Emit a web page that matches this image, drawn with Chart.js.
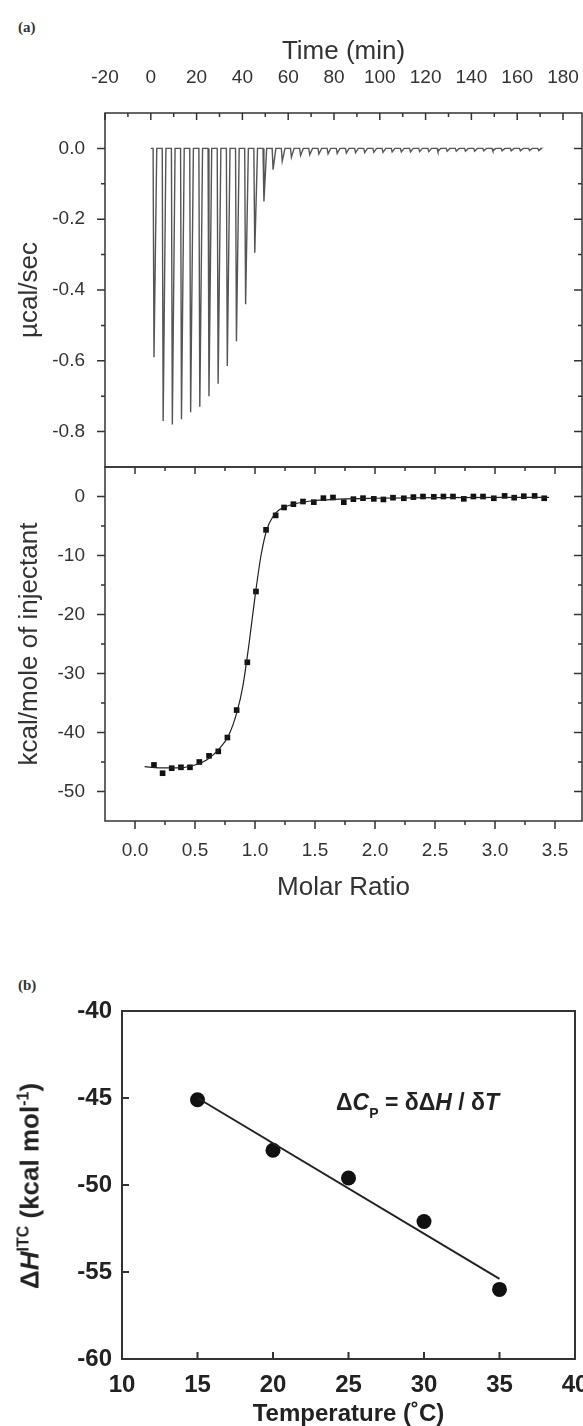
<!DOCTYPE html>
<html>
<head>
<meta charset="utf-8">
<title>ITC</title>
<script src="https://cdn.jsdelivr.net/npm/chart.js@4.4.0/dist/chart.umd.min.js"></script>
<style>
  body { margin: 0; background: #fff; }
  #page { position: relative; width: 583px; height: 1426px; overflow: hidden; background: #fff; }
  canvas { position: absolute; left: 0; }
  .tag { position: absolute; font: bold 15px "Liberation Serif", serif; color: #333; }
  #ytitleB { position: absolute; left: 30px; top: 1186px; transform: translate(-50%, -50%) rotate(-90deg);
    font: bold 26px "Liberation Sans", Arial, sans-serif; white-space: nowrap; color: #222; }
  #ytitleB sup { font-size: 16px; vertical-align: 10px; }
  #note { position: absolute; left: 336px; top: 1089px; font: bold 23px "Liberation Sans", Arial, sans-serif; color: #222; white-space: nowrap; }
  #note sub { font-size: 14px; vertical-align: -8px; }
</style>
</head>
<body>
<div id="page">
  <div class="tag" style="left:18px;top:19px">(a)</div>
  <div class="tag" style="left:18px;top:977px">(b)</div>

  <canvas id="raw" width="583" height="470" style="top:0;width:583px;height:470px"></canvas>
  <canvas id="iso" width="583" height="450" style="top:460px;width:583px;height:450px"></canvas>
  <canvas id="dh" width="583" height="451" style="top:975px;width:583px;height:451px"></canvas>

  <div id="ytitleB">Δ<i>H</i><sup>ITC</sup> (kcal mol<sup>-1</sup>)</div>
  <div id="note">Δ<i>C</i><sub>P</sub> = δΔ<i>H</i> / δ<i>T</i></div>
</div>

<script>
// upper panel: injections (time in min, peak in µcal/sec)
const injTime = [1, 5, 9, 13, 17, 21, 25, 29, 33, 37, 41, 45, 49, 53, 57, 61, 65, 69, 73, 77, 81, 85,
  89, 93, 97, 101, 105, 109, 113, 117, 121, 125, 129, 133, 137, 141, 145, 149, 153, 157, 161, 165, 169];
const injPeak = [-0.59, -0.77, -0.78, -0.765, -0.745, -0.73, -0.70, -0.665, -0.615, -0.545, -0.44, -0.295,
  -0.15, -0.06, -0.036, -0.025, -0.02, -0.018, -0.016, -0.015, -0.014, -0.013, -0.012, -0.012, -0.011,
  -0.011, -0.01, -0.01, -0.01, -0.009, -0.009, -0.009, -0.008, -0.008, -0.008, -0.008, -0.007, -0.007,
  -0.007, -0.007, -0.007, -0.006, -0.006];

// lower panel: integrated heats
const molarRatio = [0.158, 0.23, 0.306, 0.383, 0.458, 0.536, 0.617, 0.694, 0.77, 0.847, 0.936, 1.008,
  1.092, 1.172, 1.242, 1.32, 1.40, 1.49, 1.57, 1.65, 1.74, 1.82, 1.90, 1.99, 2.07, 2.15, 2.24, 2.32,
  2.40, 2.49, 2.57, 2.65, 2.74, 2.82, 2.90, 2.99, 3.08, 3.16, 3.24, 3.33, 3.41];
const heat = [-45.5, -46.9, -46.05, -45.9, -45.9, -45.0, -43.95, -43.2, -40.85, -36.2, -28.1, -16.1,
  -5.65, -3.2, -1.86, -1.3, -0.85, -0.96, -0.28, -0.17, -0.96, -0.45, -0.28, -0.4, -0.5, -0.2, -0.3,
  -0.1, 0, -0.05, 0, 0, -0.4, 0, 0, -0.3, 0.1, -0.2, 0.05, 0.1, -0.3];
// fitted curve
const fitRatio = [0.08, 0.2, 0.35, 0.5, 0.6, 0.7, 0.78, 0.85, 0.9, 0.95, 1.0, 1.05, 1.1, 1.15, 1.2, 1.3, 1.45, 1.7, 2.0, 2.5, 3.45];
const fitHeat = [-45.8, -46.0, -46.0, -45.5, -44.6, -42.8, -40.5, -36.5, -32.0, -25.0, -17.0, -10.0, -5.5, -3.4, -2.3, -1.4, -0.8, -0.45, -0.3, -0.2, -0.15];

// panel b
const tempC = [15, 20, 25, 30, 35];
const dH = [-45.1, -48.0, -49.6, -52.1, -56.0];
const lineT = [15, 35];
const lineH = [-45.0, -55.4];

// ticks
const timeMajor = [-20, 0, 20, 40, 60, 80, 100, 120, 140, 160, 180];
const timeMinor = [-10, 10, 30, 50, 70, 90, 110, 130, 150, 170];
const rawMajor = [0, -0.2, -0.4, -0.6, -0.8];
const rawMinor = [-0.1, -0.3, -0.5, -0.7];
const ratioMajor = [0, 0.5, 1.0, 1.5, 2.0, 2.5, 3.0, 3.5];
const ratioMinor = [0.25, 0.75, 1.25, 1.75, 2.25, 2.75, 3.25];
const heatMajor = [0, -10, -20, -30, -40, -50];
const heatMinor = [-5, -15, -25, -35, -45];
const tempMajor = [10, 15, 20, 25, 30, 35, 40];
const dhMajor = [-40, -45, -50, -55, -60];

// draws the box and the tick marks (in or out) on the library scales
const frameTicks = {
  id: 'frameTicks',
  afterDraw(chart, args, opts) {
    const ctx = chart.ctx;
    const a = chart.chartArea;
    ctx.save();
    ctx.strokeStyle = opts.color;
    ctx.lineWidth = opts.width;
    ctx.strokeRect(a.left, a.top, a.right - a.left, a.bottom - a.top);
    ctx.beginPath();
    opts.ticks.forEach(t => {
      const sc = chart.scales[t.scale];
      t.values.forEach(v => {
        const p = sc.getPixelForValue(v);
        if (t.side == 'top') { ctx.moveTo(p, a.top); ctx.lineTo(p, a.top + t.dir * t.len); }
        if (t.side == 'bottom') { ctx.moveTo(p, a.bottom); ctx.lineTo(p, a.bottom - t.dir * t.len); }
        if (t.side == 'left') { ctx.moveTo(a.left, p); ctx.lineTo(a.left + t.dir * t.len, p); }
        if (t.side == 'right') { ctx.moveTo(a.right, p); ctx.lineTo(a.right - t.dir * t.len, p); }
      });
    });
    ctx.stroke();
    ctx.restore();
  }
};

const tickFont = { family: 'Liberation Sans', size: 19 };
const titleFont = { family: 'Liberation Sans', size: 26 };
const boldTick = { family: 'Liberation Sans', size: 24, weight: 'bold', lineHeight: 1 };
const noGrid = { display: false, drawTicks: false };
const off = { legend: { display: false }, tooltip: { enabled: false } };

function setTicks(list) {
  return scale => { scale.ticks = list.map(v => ({ value: v })); };
}

// fixed axis size, and no extra room for labels that stick out
function fixSize(prop, size) {
  return s => {
    s[prop] = size;
    s.paddingTop = 0; s.paddingBottom = 0; s.paddingLeft = 0; s.paddingRight = 0;
  };
}

// raw thermogram as spikes
let trace = [{ x: 0, y: 0 }];
injTime.forEach((t, i) => {
  trace.push({ x: t, y: 0 }, { x: t + 0.4, y: injPeak[i] }, { x: t + 1.6, y: 0 });
});
trace.push({ x: 170, y: 0 });

new Chart(document.getElementById('raw'), {
  type: 'scatter',
  data: { datasets: [{ data: trace, showLine: true, borderColor: '#555', borderWidth: 1.4, pointRadius: 0 }] },
  options: {
    responsive: false, animation: false,
    layout: { autoPadding: false, padding: { top: 0, left: 0, right: 1, bottom: 3 } },
    plugins: {
      ...off,
      frameTicks: { color: '#333', width: 1.5, ticks: [
        { scale: 'x', side: 'top', values: timeMajor, len: 7, dir: 1 },
        { scale: 'x', side: 'top', values: timeMinor, len: 4, dir: 1 },
        { scale: 'y', side: 'left', values: rawMajor, len: 8, dir: -1 },
        { scale: 'y', side: 'left', values: rawMinor, len: 4, dir: -1 },
        { scale: 'y', side: 'right', values: rawMajor, len: 8, dir: 1 },
        { scale: 'y', side: 'right', values: rawMinor, len: 4, dir: 1 }
      ] }
    },
    scales: {
      x: {
        type: 'linear', position: 'top', min: -20, max: 188.3,
        afterBuildTicks: setTicks(timeMajor),
        afterFit: fixSize('height', 113),
        grid: noGrid, border: { display: false },
        ticks: { font: tickFont, color: '#333', padding: 24, maxRotation: 0, autoSkip: false, callback: v => String(v) },
        title: { display: true, text: 'Time (min)', font: titleFont, color: '#333', padding: { top: 36 } }
      },
      y: {
        type: 'linear', min: -0.9, max: 0.1,
        afterBuildTicks: setTicks(rawMajor),
        afterFit: fixSize('width', 105),
        grid: noGrid, border: { display: false },
        ticks: { font: tickFont, color: '#333', padding: 20, callback: v => v.toFixed(1) },
        title: { display: true, text: 'µcal/sec', font: titleFont, color: '#333', padding: { top: 14 } }
      }
    }
  },
  plugins: [frameTicks]
});

new Chart(document.getElementById('iso'), {
  type: 'scatter',
  data: { datasets: [
    { data: fitRatio.map((x, i) => ({ x: x, y: fitHeat[i] })), showLine: true, borderColor: '#222',
      borderWidth: 1.2, pointRadius: 0, cubicInterpolationMode: 'monotone' },
    { data: molarRatio.map((x, i) => ({ x: x, y: heat[i] })), pointStyle: 'rect', pointRadius: 4,
      backgroundColor: '#111', borderColor: '#111', borderWidth: 0 }
  ] },
  options: {
    responsive: false, animation: false,
    layout: { autoPadding: false, padding: { top: 7, left: 0, right: 1, bottom: 0 } },
    plugins: {
      ...off,
      frameTicks: { color: '#333', width: 1.5, ticks: [
        { scale: 'x', side: 'top', values: ratioMajor, len: 7, dir: 1 },
        { scale: 'x', side: 'top', values: ratioMinor, len: 4, dir: 1 },
        { scale: 'x', side: 'bottom', values: ratioMajor, len: 8, dir: -1 },
        { scale: 'x', side: 'bottom', values: ratioMinor, len: 4, dir: -1 },
        { scale: 'y', side: 'left', values: heatMajor, len: 8, dir: -1 },
        { scale: 'y', side: 'left', values: heatMinor, len: 4, dir: -1 },
        { scale: 'y', side: 'right', values: heatMajor, len: 8, dir: 1 },
        { scale: 'y', side: 'right', values: heatMinor, len: 4, dir: 1 }
      ] }
    },
    scales: {
      x: {
        type: 'linear', position: 'bottom', min: -0.25, max: 3.725,
        afterBuildTicks: setTicks(ratioMajor),
        afterFit: fixSize('height', 89),
        grid: noGrid, border: { display: false },
        ticks: { font: tickFont, color: '#333', padding: 18, maxRotation: 0, autoSkip: false, callback: v => v.toFixed(1) },
        title: { display: true, text: 'Molar Ratio', font: titleFont, color: '#333', padding: { bottom: 7 } }
      },
      y: {
        type: 'linear', min: -55, max: 5,
        afterBuildTicks: setTicks(heatMajor),
        afterFit: fixSize('width', 105),
        grid: noGrid, border: { display: false },
        ticks: { font: tickFont, color: '#333', padding: 20, callback: v => String(v) },
        title: { display: true, text: 'kcal/mole of injectant', font: titleFont, color: '#333', padding: { top: 14 } }
      }
    }
  },
  plugins: [frameTicks]
});

new Chart(document.getElementById('dh'), {
  type: 'scatter',
  data: { datasets: [
    { data: lineT.map((x, i) => ({ x: x, y: lineH[i] })), showLine: true, borderColor: '#222',
      borderWidth: 2, pointRadius: 0 },
    { data: tempC.map((x, i) => ({ x: x, y: dH[i] })), pointRadius: 7.5,
      backgroundColor: '#111', borderColor: '#111', borderWidth: 0 }
  ] },
  options: {
    responsive: false, animation: false,
    layout: { autoPadding: false, padding: { top: 36, left: 0, right: 8, bottom: 0 } },
    plugins: {
      ...off,
      frameTicks: { color: '#333', width: 2, ticks: [
        { scale: 'x', side: 'bottom', values: tempMajor, len: 7, dir: 1 },
        { scale: 'y', side: 'left', values: dhMajor, len: 7, dir: 1 }
      ] }
    },
    scales: {
      x: {
        type: 'linear', position: 'bottom', min: 10, max: 40,
        afterBuildTicks: setTicks(tempMajor),
        afterFit: fixSize('height', 67),
        grid: noGrid, border: { display: false },
        ticks: { font: boldTick, color: '#222', padding: 14, maxRotation: 0, autoSkip: false, callback: v => String(v) },
        title: { display: true, text: 'Temperature (˚C)', font: boldTick, color: '#222', padding: { bottom: 0 } }
      },
      y: {
        type: 'linear', min: -60, max: -40,
        afterBuildTicks: setTicks(dhMajor),
        afterFit: fixSize('width', 122),
        grid: noGrid, border: { display: false },
        ticks: { font: boldTick, color: '#222', padding: 10, callback: v => String(v) }
      }
    }
  },
  plugins: [frameTicks]
});
</script>
</body>
</html>
